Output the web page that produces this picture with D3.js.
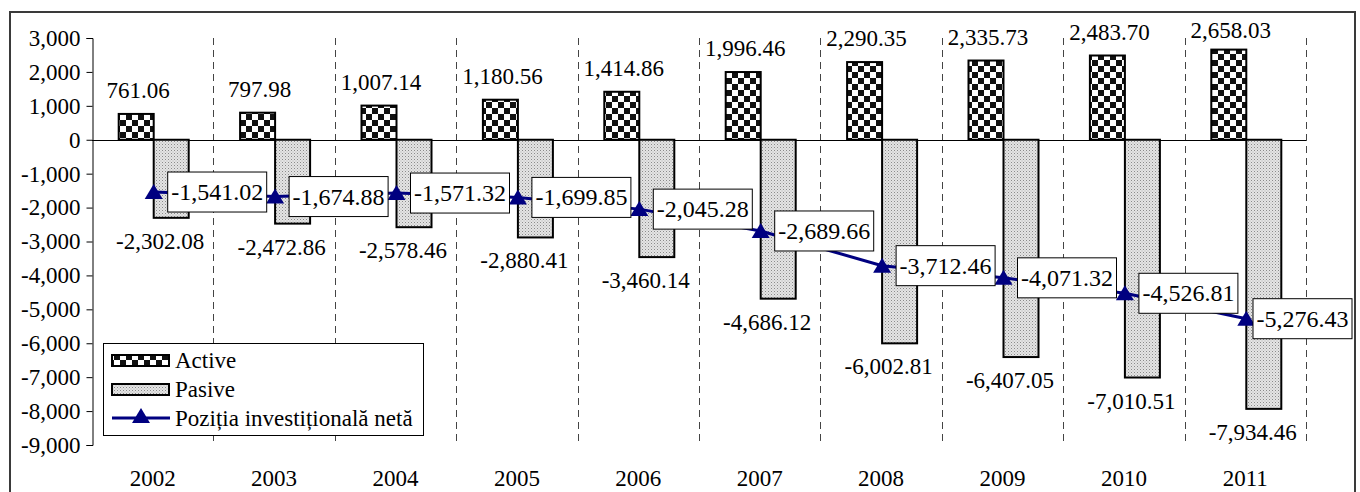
<!DOCTYPE html>
<html>
<head>
<meta charset="utf-8">
<script src="https://cdn.jsdelivr.net/npm/d3@7"></script>
<style>
  body { margin: 0; background: #fff; }
</style>
</head>
<body>
<svg></svg>
<script>
//data
var years = ['2002', '2003', '2004', '2005', '2006', '2007', '2008', '2009', '2010', '2011'];
var active = [761.06, 797.98, 1007.14, 1180.56, 1414.86, 1996.46, 2290.35, 2335.73, 2483.70, 2658.03];
var pasive = [-2302.08, -2472.86, -2578.46, -2880.41, -3460.14, -4686.12, -6002.81, -6407.05, -7010.51, -7934.46];
var net = [-1541.02, -1674.88, -1571.32, -1699.85, -2045.28, -2689.66, -3712.46, -4071.32, -4526.81, -5276.43];
var yTicks = [3000, 2000, 1000, 0, -1000, -2000, -3000, -4000, -5000, -6000, -7000, -8000, -9000];
var seriesNames = ['Active', 'Pasive', 'Poziția investițională netă'];

//svg size
const width = 1360;
const height = 492;
var svg = d3.select('svg').attr('width', width).attr('height', height);

//plot area
var plotLeft = 92, plotRight = 1306, plotTop = 38, plotBottom = 445;
var fontSize = 23;
var fontFam = '"Liberation Serif", "Times New Roman", Times, "DejaVu Serif", serif';
var lineCol = '#000080';

//number format with plain hyphen minus
var loc = d3.formatLocale({decimal: '.', thousands: ',', grouping: [3], currency: ['', ''], minus: '-'});
var fmt2 = loc.format(',.2f');
var fmt0 = loc.format(',.0f');

//scales
var x = d3.scaleBand().domain(years).range([plotLeft, plotRight]);
var bw = x.bandwidth();
var barW = 35;
var xInner = d3.scaleBand().domain(['a', 'p']).range([bw / 2 - barW + 1, bw / 2 + barW + 1]);
var y = d3.scaleLinear().domain([-9000, 3000]).range([plotBottom, plotTop]);

//helper for text style
function txt(sel, size) {
    return sel.style('font-family', fontFam).style('font-size', (size || fontSize) + 'px').attr('fill', '#000');
}

//patterns
var defs = svg.append('defs');
var checker = defs.append('pattern').attr('id', 'checker')
    .attr('patternUnits', 'userSpaceOnUse').attr('width', 12).attr('height', 12);
checker.append('rect').attr('width', 12).attr('height', 12).attr('fill', '#fff');
checker.append('rect').attr('width', 6).attr('height', 6).attr('fill', '#111');
checker.append('rect').attr('x', 6).attr('y', 6).attr('width', 6).attr('height', 6).attr('fill', '#111');

var dots = defs.append('pattern').attr('id', 'dots')
    .attr('patternUnits', 'userSpaceOnUse').attr('width', 3).attr('height', 3);
dots.append('rect').attr('width', 3).attr('height', 3).attr('fill', '#e4e4e4');
dots.append('rect').attr('width', 1).attr('height', 1).attr('fill', '#8a8a8a');
dots.append('rect').attr('x', 1.5).attr('y', 1.5).attr('width', 1).attr('height', 1).attr('fill', '#b0b0b0');

//outer frame
svg.append('rect')
   .attr('x', 10).attr('y', 12)
   .attr('width', 1345).attr('height', 495)
   .attr('fill', '#fff')
   .attr('stroke', '#3a3a3a')
   .attr('stroke-width', 2);

var chart = svg.append('g');

//dashed vertical gridlines between categories
for (var i = 1; i <= years.length; i++) {
    var gx = Math.round(plotLeft + i * bw) + 0.5;
    chart.append('line')
         .attr('x1', gx).attr('x2', gx)
         .attr('y1', plotTop).attr('y2', plotBottom)
         .style('stroke', '#444')
         .style('stroke-width', 1)
         .style('stroke-dasharray', '7, 5');
}

//y axis
var yAxis = d3.axisLeft(y).tickValues(yTicks).tickFormat(fmt0).tickSize(6).tickPadding(6);
var yg = chart.append('g').attr('transform', 'translate(' + (plotLeft + 0.5) + ',0)').call(yAxis);
yg.attr('font-family', null).attr('font-size', null);
txt(yg.selectAll('text'));
yg.select('.domain').attr('stroke', '#000');
yg.selectAll('.tick line').attr('stroke', '#000');

//zero line
chart.append('line')
     .attr('x1', plotLeft).attr('x2', plotRight)
     .attr('y1', Math.round(y(0)) + 0.5).attr('y2', Math.round(y(0)) + 0.5)
     .style('stroke', '#000').style('stroke-width', 1);

//year labels
txt(chart.selectAll('.year').data(years).enter().append('text')
     .attr('class', 'year')
     .attr('x', function(d) { return x(d) + bw / 2; })
     .attr('y', 486)
     .attr('text-anchor', 'middle')
     .text(function(d) { return d; }));

//active bars
chart.selectAll('.bar-a').data(active).enter().append('rect')
     .attr('class', 'bar-a')
     .attr('x', function(d, i) { return x(years[i]) + xInner('a'); })
     .attr('y', function(d) { return y(d); })
     .attr('width', xInner.bandwidth())
     .attr('height', function(d) { return y(0) - y(d); })
     .attr('fill', 'url(#checker)')
     .attr('stroke', '#000').attr('stroke-width', 2);

//pasive bars
chart.selectAll('.bar-p').data(pasive).enter().append('rect')
     .attr('class', 'bar-p')
     .attr('x', function(d, i) { return x(years[i]) + xInner('p'); })
     .attr('y', y(0))
     .attr('width', xInner.bandwidth())
     .attr('height', function(d) { return y(d) - y(0); })
     .attr('fill', 'url(#dots)')
     .attr('stroke', '#000').attr('stroke-width', 2);

//active labels (kept inside top of chart)
txt(chart.selectAll('.lab-a').data(active).enter().append('text')
     .attr('class', 'lab-a')
     .attr('x', function(d, i) { return x(years[i]) + xInner('a') + barW / 2 + 2; })
     .attr('y', function(d) { return Math.max(y(d) - 16, 38); })
     .attr('text-anchor', 'middle')
     .text(function(d) { return fmt2(d); }));

//pasive labels
txt(chart.selectAll('.lab-p').data(pasive).enter().append('text')
     .attr('class', 'lab-p')
     .attr('x', function(d, i) { return x(years[i]) + xInner('p') + barW / 2 - 11; })
     .attr('y', function(d) { return y(d) + 31; })
     .attr('text-anchor', 'middle')
     .text(function(d) { return fmt2(d); }));

//net position line
var cx = function(d, i) { return x(years[i]) + bw / 2 + 1; };
var line = d3.line().x(cx).y(function(d) { return y(d); });
chart.append('path')
     .datum(net)
     .attr('d', line)
     .attr('fill', 'none')
     .attr('stroke', lineCol)
     .attr('stroke-width', 3);

var triPath = 'M0,-9L9,6L-9,6Z';
chart.selectAll('.mark').data(net).enter().append('path')
     .attr('class', 'mark')
     .attr('d', triPath)
     .attr('transform', function(d, i) { return 'translate(' + cx(d, i) + ',' + (y(d) + 1) + ')'; })
     .attr('fill', lineCol);

//net labels in boxes, right of marker
net.forEach(function(d, i) {
    var g = chart.append('g');
    var box = g.append('rect');
    var t = txt(g.append('text').text(fmt2(d)), 24);
    var tw = t.node().getComputedTextLength();
    var bwid = tw + 7;
    var bx = cx(d, i) + 14;
    if (bx + bwid > 1352) bx = 1352 - bwid;
    var by = y(d) - 20;
    box.attr('x', bx).attr('y', by)
       .attr('width', bwid).attr('height', 40)
       .attr('fill', '#fff')
       .attr('stroke', '#000').attr('stroke-width', 1);
    t.attr('x', bx + 3.5).attr('y', by + 28);
});

//legend
var leg = chart.append('g');
leg.append('rect')
   .attr('x', 103.5).attr('y', 343.5)
   .attr('width', 320).attr('height', 92)
   .attr('fill', '#fff').attr('stroke', '#000').attr('stroke-width', 1);
var legY = [360, 389, 418];
leg.append('rect').attr('x', 112).attr('y', legY[0] - 5).attr('width', 57).attr('height', 11)
   .attr('fill', 'url(#checker)').attr('stroke', '#000').attr('stroke-width', 2);
leg.append('rect').attr('x', 112).attr('y', legY[1] - 5).attr('width', 57).attr('height', 11)
   .attr('fill', 'url(#dots)').attr('stroke', '#000').attr('stroke-width', 2);
leg.append('line').attr('x1', 112).attr('x2', 170).attr('y1', legY[2]).attr('y2', legY[2])
   .attr('stroke', lineCol).attr('stroke-width', 3);
leg.append('path').attr('d', triPath)
   .attr('transform', 'translate(141,' + (legY[2] - 1) + ')')
   .attr('fill', lineCol);
seriesNames.forEach(function(n, i) {
    txt(leg.append('text')
       .attr('x', 175).attr('y', legY[i] + 8)
       .text(n));
});
</script>
</body>
</html>
